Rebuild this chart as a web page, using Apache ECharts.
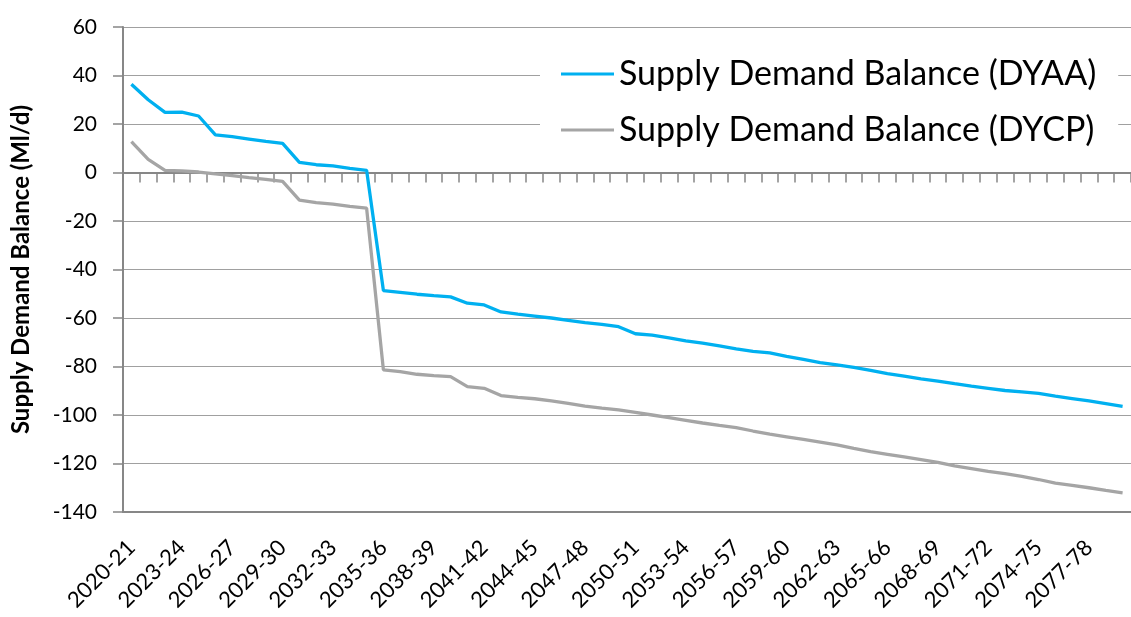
<!DOCTYPE html>
<html>
<head>
<meta charset="utf-8">
<script src="https://cdn.jsdelivr.net/npm/echarts@6/dist/echarts.min.js"></script>
<style>
html,body{margin:0;padding:0;background:#fff;}
#chart{width:1131px;height:617px;}
</style>
</head>
<body>
<div id="chart"></div>
<script>
const categories = [
 '2020-21','2021-22','2022-23','2023-24','2024-25','2025-26','2026-27','2027-28','2028-29','2029-30',
 '2030-31','2031-32','2032-33','2033-34','2034-35','2035-36','2036-37','2037-38','2038-39','2039-40',
 '2040-41','2041-42','2042-43','2043-44','2044-45','2045-46','2046-47','2047-48','2048-49','2049-50',
 '2050-51','2051-52','2052-53','2053-54','2054-55','2055-56','2056-57','2057-58','2058-59','2059-60',
 '2060-61','2061-62','2062-63','2063-64','2064-65','2065-66','2066-67','2067-68','2068-69','2069-70',
 '2070-71','2071-72','2072-73','2073-74','2074-75','2075-76','2076-77','2077-78','2078-79','2079-80'
];
const dyaa = [
 36.4,30.0,24.8,24.9,23.3,15.5,14.8,13.8,12.8,12.0,
 4.2,3.2,2.7,1.7,0.9,-48.7,-49.4,-50.2,-50.8,-51.3,
 -53.9,-54.6,-57.5,-58.4,-59.2,-60.0,-61.0,-61.9,-62.6,-63.6,
 -66.5,-67.1,-68.2,-69.4,-70.4,-71.5,-72.7,-73.8,-74.4,-75.8,
 -77.1,-78.4,-79.3,-80.4,-81.6,-82.9,-84.0,-85.1,-86.0,-87.1,
 -88.1,-89.0,-89.9,-90.5,-91.1,-92.2,-93.2,-94.2,-95.3,-96.4
];
const dycp = [
 12.7,5.4,0.9,0.7,0.2,-0.6,-1.3,-2.1,-2.8,-3.7,
 -11.4,-12.4,-13.0,-14.0,-14.7,-81.4,-82.1,-83.2,-83.8,-84.2,
 -88.3,-89.0,-92.0,-92.7,-93.3,-94.2,-95.2,-96.3,-97.2,-97.9,
 -98.9,-100.0,-101.1,-102.2,-103.3,-104.3,-105.2,-106.6,-107.9,-109.0,
 -110.1,-111.2,-112.3,-113.8,-115.1,-116.2,-117.3,-118.4,-119.5,-121.0,
 -122.1,-123.2,-124.2,-125.3,-126.6,-128.1,-129.0,-130.0,-131.1,-132.1
];
const seriesNames = ['Supply Demand Balance (DYAA)','Supply Demand Balance (DYCP)'];
const yAxisName = 'Supply Demand Balance (Ml/d)';

const FONT = 'Lato';
const chart = echarts.init(document.getElementById('chart'), null, {renderer:'canvas'});
chart.setOption({
  animation:false,
  backgroundColor:'#fff',
  textStyle:{fontFamily:FONT},
  grid:{left:123, top:27, width:1020, height:485, containLabel:false},
  legend:{
    orient:'vertical', left:540, top:43,
    padding:[14,22,14,21],
    backgroundColor:'#fff',
    icon:'rect',
    itemWidth:53, itemHeight:3, itemGap:22,
    textStyle:{fontFamily:FONT, fontSize:34, color:'#000', lineHeight:34},
    data:seriesNames
  },
  xAxis:[{
    type:'category', data:categories, boundaryGap:true, position:'bottom',
    axisLine:{onZero:false, lineStyle:{color:'#878787', width:2}},
    axisTick:{show:false},
    axisLabel:{interval:2, rotate:45, margin:32, fontFamily:FONT, fontSize:22, color:'#000'},
    splitLine:{show:false}
  },{
    type:'category', data:categories, boundaryGap:true, position:'top',
    axisLine:{onZero:true, lineStyle:{color:'#878787', width:2}},
    axisTick:{show:true, inside:true, interval:0, length:10, lineStyle:{color:'#878787', width:1.5}},
    axisLabel:{show:false},
    splitLine:{show:false}
  }],
  yAxis:{
    type:'value', min:-140, max:60, interval:20,
    name:yAxisName, nameLocation:'middle', nameGap:90,
    nameTextStyle:{fontFamily:FONT, fontSize:24, fontWeight:'bold', color:'#000'},
    axisLine:{show:true, lineStyle:{color:'#878787', width:2}},
    axisTick:{show:true, length:10, lineStyle:{color:'#878787', width:1.5}},
    axisLabel:{margin:26, fontFamily:FONT, fontSize:21, color:'#000'},
    splitLine:{show:true, lineStyle:{color:'#a0a0a0', width:1.2}}
  },
  series:[{
    name:seriesNames[0], type:'line', data:dyaa, xAxisIndex:0,
    symbol:'none', lineStyle:{color:'#00b0f0', width:3.3}, itemStyle:{color:'#00b0f0'}, z:3
  },{
    name:seriesNames[1], type:'line', data:dycp, xAxisIndex:0,
    symbol:'none', lineStyle:{color:'#a5a5a5', width:3.3}, itemStyle:{color:'#a5a5a5'}, z:2
  }]
});
</script>
</body>
</html>
